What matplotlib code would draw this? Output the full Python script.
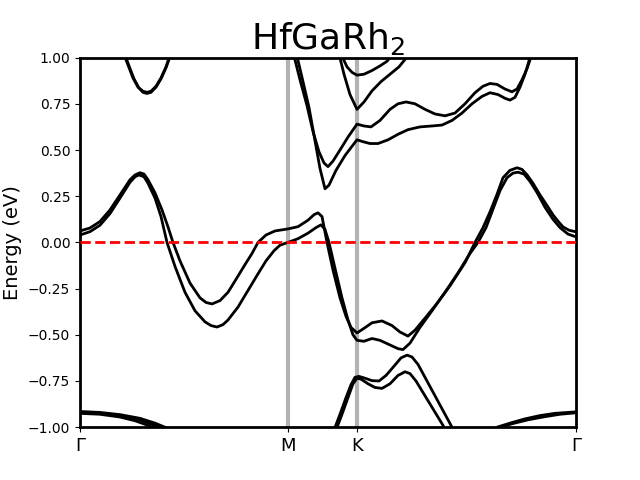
import numpy as np
import matplotlib
matplotlib.use("Agg")
import matplotlib.pyplot as plt

# k-path coordinates of the high symmetry points
kticks = [0.0, 2.08, 2.77, 4.96]
klabels = ["Γ", "M", "K", "Γ"]

# bands: (k, E in eV)
v1 = [(0.00, 0.062), (0.10, 0.078), (0.20, 0.113), (0.30, 0.176), (0.40, 0.257), (0.50, 0.339),
      (0.55, 0.365), (0.60, 0.377), (0.64, 0.37), (0.68, 0.339), (0.75, 0.268), (0.82, 0.176),
      (0.88, 0.084), (0.93, 0.0), (1.00, -0.10), (1.10, -0.22), (1.20, -0.30), (1.26, -0.325),
      (1.32, -0.333), (1.40, -0.315), (1.48, -0.27), (1.56, -0.20), (1.65, -0.12), (1.72, -0.06),
      (1.78, 0.0), (1.86, 0.04), (1.95, 0.062), (2.08, 0.073), (2.18, 0.085), (2.28, 0.12),
      (2.34, 0.15), (2.38, 0.16), (2.42, 0.14), (2.47, 0.0), (2.53, -0.15), (2.60, -0.30),
      (2.66, -0.40), (2.71, -0.46), (2.77, -0.49), (2.84, -0.465), (2.92, -0.435), (3.02, -0.425),
      (3.12, -0.45), (3.20, -0.485), (3.28, -0.507), (3.35, -0.475), (3.45, -0.41), (3.57, -0.33),
      (3.70, -0.235), (3.85, -0.11), (3.95, 0.0), (4.03, 0.08), (4.10, 0.165), (4.17, 0.26),
      (4.23, 0.35), (4.30, 0.39), (4.37, 0.404), (4.42, 0.395), (4.47, 0.366), (4.53, 0.32),
      (4.60, 0.257), (4.67, 0.20), (4.73, 0.149), (4.78, 0.115), (4.83, 0.084), (4.89, 0.066),
      (4.96, 0.057)]
v2 = [(0.00, 0.040), (0.10, 0.058), (0.20, 0.093), (0.30, 0.156), (0.40, 0.24), (0.50, 0.325),
      (0.55, 0.355), (0.59, 0.365), (0.64, 0.355), (0.68, 0.32), (0.75, 0.24), (0.81, 0.14),
      (0.87, 0.0), (0.95, -0.13), (1.05, -0.27), (1.15, -0.37), (1.25, -0.43), (1.31, -0.45),
      (1.37, -0.458), (1.43, -0.445), (1.48, -0.42), (1.58, -0.35), (1.68, -0.26), (1.78, -0.17),
      (1.86, -0.10), (1.94, -0.045), (2.00, -0.015), (2.08, 0.0), (2.18, 0.02), (2.28, 0.05),
      (2.36, 0.08), (2.41, 0.095), (2.45, 0.07), (2.49, 0.0), (2.55, -0.14), (2.62, -0.30),
      (2.68, -0.42), (2.73, -0.50), (2.77, -0.53), (2.84, -0.535), (2.92, -0.52), (3.00, -0.53),
      (3.10, -0.555), (3.18, -0.575), (3.23, -0.58), (3.30, -0.545), (3.40, -0.46), (3.52, -0.37),
      (3.65, -0.27), (3.78, -0.165), (3.90, -0.06), (3.98, 0.0), (4.06, 0.08), (4.13, 0.18),
      (4.20, 0.28), (4.27, 0.35), (4.33, 0.375), (4.38, 0.38), (4.44, 0.37), (4.50, 0.33),
      (4.57, 0.27), (4.65, 0.19), (4.73, 0.125), (4.80, 0.08), (4.88, 0.045), (4.96, 0.03)]
l1 = [(2.53, -1.03), (2.60, -0.93), (2.66, -0.84), (2.71, -0.77), (2.75, -0.73), (2.79, -0.725),
      (2.85, -0.735), (2.92, -0.748), (2.99, -0.75), (3.06, -0.72), (3.14, -0.67), (3.21, -0.625),
      (3.27, -0.61), (3.32, -0.62), (3.38, -0.66), (3.46, -0.74), (3.55, -0.83), (3.64, -0.92),
      (3.72, -1.0), (3.76, -1.03)]
l2 = [(2.55, -1.03), (2.62, -0.93), (2.68, -0.84), (2.73, -0.765), (2.77, -0.735), (2.81, -0.74),
      (2.88, -0.765), (2.95, -0.785), (3.02, -0.79), (3.10, -0.765), (3.18, -0.72), (3.25, -0.70),
      (3.30, -0.71), (3.36, -0.75), (3.45, -0.83), (3.54, -0.91), (3.63, -0.99), (3.67, -1.03)]
c1 = [(2.13, 1.03), (2.20, 0.88), (2.27, 0.74), (2.33, 0.60), (2.39, 0.49), (2.44, 0.43),
      (2.48, 0.41), (2.53, 0.44), (2.60, 0.50), (2.68, 0.57), (2.77, 0.64), (2.84, 0.63),
      (2.91, 0.625), (3.00, 0.66), (3.10, 0.72), (3.18, 0.75), (3.26, 0.76), (3.35, 0.75),
      (3.45, 0.72), (3.55, 0.695), (3.65, 0.685), (3.75, 0.70), (3.85, 0.75), (3.95, 0.81),
      (4.03, 0.845), (4.10, 0.86), (4.17, 0.855), (4.25, 0.83), (4.32, 0.815), (4.37, 0.83),
      (4.42, 0.88), (4.47, 0.94), (4.52, 1.02)]
c2 = [(2.16, 1.03), (2.23, 0.87), (2.29, 0.73), (2.35, 0.55), (2.40, 0.40), (2.45, 0.29),
      (2.49, 0.31), (2.56, 0.39), (2.65, 0.47), (2.72, 0.52), (2.77, 0.555), (2.83, 0.545),
      (2.90, 0.535), (2.98, 0.535), (3.08, 0.555), (3.18, 0.585), (3.28, 0.61), (3.40, 0.625),
      (3.52, 0.63), (3.62, 0.635), (3.72, 0.66), (3.82, 0.70), (3.92, 0.75), (4.02, 0.79),
      (4.10, 0.81), (4.18, 0.80), (4.25, 0.78), (4.30, 0.77), (4.35, 0.785), (4.40, 0.84),
      (4.45, 0.91), (4.50, 1.0), (4.52, 1.03)]
c3 = [(2.59, 1.02), (2.64, 0.91), (2.70, 0.80), (2.77, 0.72), (2.84, 0.76), (2.92, 0.82),
      (3.01, 0.87), (3.10, 0.91), (3.19, 0.95), (3.25, 0.99), (3.28, 1.02)]
c4 = [(2.60, 1.03), (2.67, 0.95), (2.72, 0.92), (2.77, 0.905), (2.84, 0.91), (2.92, 0.93),
      (3.00, 0.955), (3.07, 0.98), (3.13, 1.02)]
c5 = [(0.43, 1.03), (0.48, 0.96), (0.53, 0.89), (0.58, 0.84), (0.63, 0.818), (0.67, 0.812),
      (0.71, 0.818), (0.76, 0.845), (0.81, 0.89), (0.86, 0.95), (0.91, 1.03)]
c6 = [(0.44, 1.03), (0.49, 0.955), (0.54, 0.885), (0.59, 0.835), (0.63, 0.812), (0.67, 0.806),
      (0.71, 0.812), (0.76, 0.84), (0.81, 0.885), (0.86, 0.945), (0.91, 1.02)]
b1 = [(0.0, -0.915), (0.20, -0.92), (0.40, -0.932), (0.60, -0.952), (0.75, -0.978), (0.85, -1.0), (0.92, -1.02)]
b2 = [(0.0, -0.92), (0.20, -0.925), (0.40, -0.938), (0.60, -0.96), (0.72, -0.985), (0.80, -1.0), (0.88, -1.02)]
b3 = [(0.0, -0.925), (0.20, -0.93), (0.40, -0.945), (0.55, -0.965), (0.68, -0.99), (0.74, -1.005), (0.78, -1.02)]
r1 = [(4.10, -1.02), (4.17, -1.0), (4.30, -0.978), (4.45, -0.955), (4.60, -0.937), (4.75, -0.925), (4.96, -0.917)]
r2 = [(4.13, -1.02), (4.20, -1.0), (4.33, -0.98), (4.48, -0.96), (4.65, -0.943), (4.80, -0.93), (4.96, -0.922)]

bands = [v1, v2, l1, l2, c1, c2, c3, c4, c5, c6, b1, b2, b3, r1, r2]

fig, ax = plt.subplots(figsize=(6.4, 4.8), dpi=100)

for kx in kticks[1:-1]:
    ax.axvline(kx, color="#b3b3b3", lw=3, zorder=1)

for band in bands:
    k, e = np.array(band).T
    ax.plot(k, e, color="black", lw=2, zorder=2)

ax.axhline(0, color="red", ls="--", lw=2, zorder=3)

ax.set_xlim(kticks[0], kticks[-1])
ax.set_ylim(-1, 1)
ax.set_xticks(kticks)
ax.set_xticklabels(klabels, fontsize=13)
ax.set_ylabel("Energy (eV)", fontsize=14)
ax.set_title("HfGaRh$_2$", fontsize=26)
for sp in ax.spines.values():
    sp.set_linewidth(2)

fig.savefig("out.png")
